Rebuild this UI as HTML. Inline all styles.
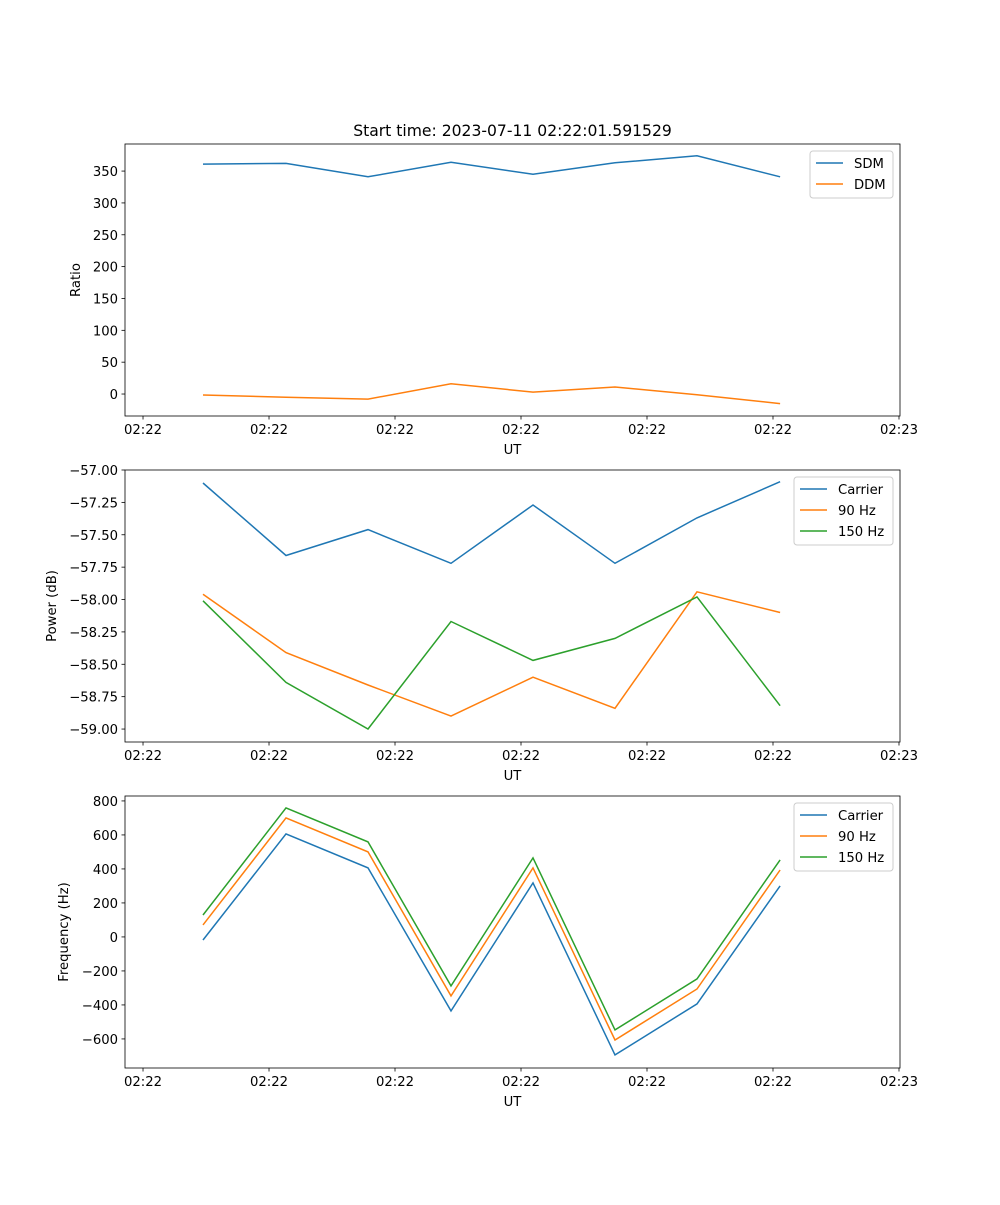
<!DOCTYPE html>
<html><head><meta charset="utf-8"><style>
body{margin:0;background:#fff;}
svg text{font-family:"DejaVu Sans","Liberation Sans",sans-serif;font-size:13.2px;fill:#000;}
</style></head><body>
<svg id="fig" width="1000" height="1200" xmlns="http://www.w3.org/2000/svg"></svg>
<script>
const xTickLabels = ["02:22","02:22","02:22","02:22","02:22","02:22","02:23"];
const xTickVals = [0,1,2,3,4,5,6];
const xData = [0.476,1.135,1.786,2.444,3.095,3.746,4.397,5.056];
const sdm = [361,362,341,364,345,363,374,341];
const ddm = [-1.5,-5,-8,16,3,11,-1,-15];
const pCarrier = [-57.10,-57.66,-57.46,-57.72,-57.27,-57.72,-57.37,-57.09];
const p90 = [-57.96,-58.41,-58.66,-58.90,-58.60,-58.84,-57.94,-58.10];
const p150 = [-58.01,-58.64,-59.00,-58.17,-58.47,-58.30,-57.98,-58.82];
const fCarrier = [-18,606,406,-435,318,-694,-394,300];
const f90 = [71,700,500,-347,406,-606,-306,394];
const f150 = [129,759,559,-288,465,-547,-247,453];
const ratioTicks = [0,50,100,150,200,250,300,350];
const powerTicks = [-57.00,-57.25,-57.50,-57.75,-58.00,-58.25,-58.50,-58.75,-59.00];
const freqTicks = [-600,-400,-200,0,200,400,600,800];

const NS="http://www.w3.org/2000/svg";
const svg=document.getElementById('fig');
function mk(tag,attrs,parent){const e=document.createElementNS(NS,tag);for(const k in attrs)e.setAttribute(k,attrs[k]);(parent||svg).appendChild(e);return e;}
const L=125,R=900,W=R-L;
const xmin=-0.143,xmax=6.008;
const sx=v=>L+(v-xmin)/(xmax-xmin)*W;
const colors=["#1f77b4","#ff7f0e","#2ca02c"];

function panel(name,top,bottom,ymin,ymax,yticks,fmt,ylabel,series,labels,legendW){
  const g=mk('g',{});
  
  
  const sy=v=>bottom-(v-ymin)/(ymax-ymin)*(bottom-top);
  series.forEach((s,i)=>{
    const pts=s.map((v,j)=>sx(xData[j]).toFixed(1)+','+sy(v).toFixed(1)).join(' ');
    const pl=mk('polyline',{points:pts,fill:'none',stroke:colors[i],'stroke-width':1.5},g);
    
    
  });
  const fr=mk('rect',{x:L,y:top,width:W,height:bottom-top,fill:'none',stroke:'#000','stroke-width':0.8},g);
  
  
  xTickVals.forEach((v,i)=>{
    const x=sx(v);
    mk('line',{x1:x,x2:x,y1:bottom,y2:bottom+3.5,stroke:'#000','stroke-width':0.8},g);
    const t=mk('text',{x:x,y:bottom+18,'text-anchor':'middle'},g);t.textContent=xTickLabels[i];
    
    
  });
  yticks.forEach(v=>{
    const y=sy(v);
    mk('line',{x1:L-3.5,x2:L,y1:y,y2:y,stroke:'#000','stroke-width':0.8},g);
    const t=mk('text',{x:L-7,y:y+5,'text-anchor':'end'},g);t.textContent=fmt(v).replace('-','\u2212');
    
    
  });
  const xl=mk('text',{x:L+W/2,y:bottom+38,'text-anchor':'middle'},g);xl.textContent='UT';
  
  
  const yx = name==='ratio'?80:(name==='power'?56:68);
  const yl=mk('text',{x:yx,y:(top+bottom)/2,'text-anchor':'middle',transform:`rotate(-90 ${yx} ${(top+bottom)/2})`},g);yl.textContent=ylabel;
  
  
  const lg=mk('g',{},g);
  
  
  const lx=R-7-legendW, ly=top+7, lh=5+labels.length*21;
  mk('rect',{x:lx,y:ly,width:legendW,height:lh,rx:3,fill:'#fff','fill-opacity':0.8,stroke:'#ccc'},lg);
  labels.forEach((lb,i)=>{
    const yy=ly+12+i*21;
    mk('line',{x1:lx+6,x2:lx+33,y1:yy,y2:yy,stroke:colors[i],'stroke-width':1.5},lg);
    const t=mk('text',{x:lx+44,y:yy+5},lg);t.textContent=lb;
    
    
  });
}
const title=mk('text',{x:L+W/2,y:136,'text-anchor':'middle',style:'font-size:15.6px'});
title.textContent='Start time: 2023-07-11 02:22:01.591529';


panel('ratio',144,416,-34.5,392.5,ratioTicks,v=>String(v),'Ratio',[sdm,ddm],['SDM','DDM'],83);
panel('power',470,742,-59.10,-57.00,powerTicks,v=>v.toFixed(2),'Power (dB)',[pCarrier,p90,p150],['Carrier','90 Hz','150 Hz'],99);
panel('frequency',796,1068,-771,829,freqTicks,v=>String(v),'Frequency (Hz)',[fCarrier,f90,f150],['Carrier','90 Hz','150 Hz'],99);
</script>
</body></html>
